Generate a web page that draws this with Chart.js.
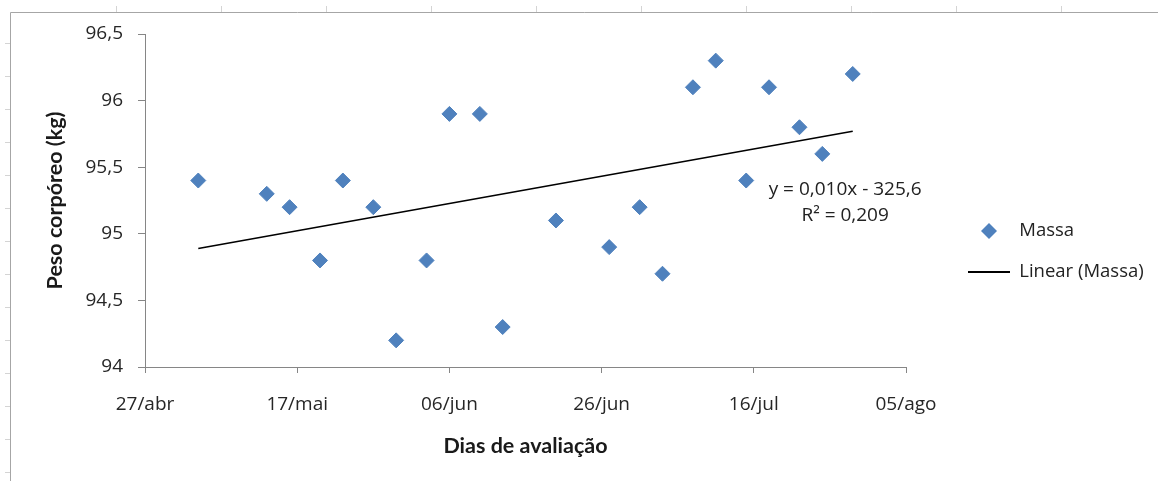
<!DOCTYPE html>
<html>
<head>
<meta charset="utf-8">
<script src="https://cdn.jsdelivr.net/npm/chart.js@4.4.1/dist/chart.umd.min.js"></script>
<style>
  html, body { margin: 0; padding: 0; background: #fff; }
  #wrap { width: 1158px; height: 481px; position: relative; }
</style>
</head>
<body>
<div id="wrap"><canvas id="grafico"></canvas></div>
<script>
// dias contados a partir de 27/abr
const dias = [7, 16, 19, 23, 26, 30, 33, 37, 40, 44, 47, 54, 61, 65, 68, 72, 75, 79, 82, 86, 89, 93];
const massa = [95.4, 95.3, 95.2, 94.8, 95.4, 95.2, 94.2, 94.8, 95.9, 95.9, 94.3, 95.1, 94.9, 95.2, 94.7, 96.1, 96.3, 95.4, 96.1, 95.8, 95.6, 96.2];
// linha de tendencia do Excel: extremos
const tendDias = [7, 93];
const tendMassa = [94.89, 95.77];
const rotulosX = ['27/abr', '17/mai', '06/jun', '26/jun', '16/jul', '05/ago'];
const equacao = ['y = 0,010x - 325,6', 'R² = 0,209'];

const azul = '#4f81bd';
const fonte = "'Open Sans', sans-serif";
const fonteTitulo = "Lato, 'Open Sans', sans-serif";

// icones da legenda
const losango = document.createElement('canvas');
losango.width = 16; losango.height = 16;
let c = losango.getContext('2d');
c.fillStyle = azul;
c.beginPath(); c.moveTo(0, 8); c.lineTo(8, 0); c.lineTo(16, 8); c.lineTo(8, 16); c.closePath(); c.fill();

const traco = document.createElement('canvas');
traco.width = 42; traco.height = 2;
c = traco.getContext('2d');
c.fillStyle = '#000';
c.fillRect(0, 0, 42, 2);

// moldura da planilha (bordas das celulas)
const moldura = {
  id: 'moldura',
  beforeDraw(chart) {
    const ctx = chart.ctx;
    ctx.save();
    ctx.strokeStyle = '#a6a6a6';
    ctx.lineWidth = 1;
    ctx.beginPath();
    ctx.moveTo(10.5, 481); ctx.lineTo(10.5, 12.5); ctx.lineTo(1158, 12.5);
    ctx.stroke();
    ctx.strokeStyle = '#d4d4d4';
    ctx.beginPath();
    for (let y = 43; y < 481; y += 33) { ctx.moveTo(5, y + 0.5); ctx.lineTo(10, y + 0.5); }
    for (let x = 116; x < 1158; x += 105) { ctx.moveTo(x + 0.5, 6); ctx.lineTo(x + 0.5, 12); }
    ctx.stroke();
    ctx.restore();
  }
};

// legenda afastada da area do grafico, como no Excel
const posLegenda = {
  id: 'posLegenda',
  afterLayout(chart) {
    const l = chart.legend;
    const w = l.width;
    l.left = 945.5; l.right = l.left + w;
    l.top -= 6; l.bottom -= 6;
  }
};

// equacao da linha de tendencia
const rotuloEquacao = {
  id: 'rotuloEquacao',
  afterDatasetsDraw(chart) {
    const {ctx, scales: {x, y}} = chart;
    ctx.save();
    ctx.font = '19px ' + fonte;
    ctx.fillStyle = '#222';
    ctx.textAlign = 'center';
    ctx.textBaseline = 'middle';
    ctx.fillText(equacao[0], x.getPixelForValue(92), y.getPixelForValue(95.335));
    ctx.fillText(equacao[1], x.getPixelForValue(92), y.getPixelForValue(95.14));
    ctx.restore();
  }
};

new Chart(document.getElementById('grafico'), {
  type: 'scatter',
  data: {
    datasets: [
      {
        label: 'Massa',
        data: dias.map((d, i) => ({ x: d, y: massa[i] })),
        pointStyle: 'rectRot',
        pointRadius: 7.5,
        pointHoverRadius: 7.5,
        backgroundColor: azul,
        borderColor: azul,
        borderWidth: 1
      },
      {
        label: 'Linear (Massa)',
        type: 'line',
        data: tendDias.map((d, i) => ({ x: d, y: tendMassa[i] })),
        borderColor: '#000',
        borderWidth: 1.6,
        pointRadius: 0,
        fill: false
      }
    ]
  },
  options: {
    responsive: true,
    maintainAspectRatio: false,
    animation: false,
    layout: { padding: { top: 34, left: 0, right: 20, bottom: 0 } },
    scales: {
      x: {
        type: 'linear',
        min: 0, max: 100,
        afterFit(scale) { scale.height = 114; scale.paddingRight = 252; },
        ticks: {
          stepSize: 20,
          padding: 20,
          color: '#262626',
          font: { family: fonte, size: 19 },
          callback: v => rotulosX[v / 20]
        },
        grid: { drawOnChartArea: false, drawTicks: true, tickLength: 6, color: '#868686' },
        border: { display: true, color: '#868686' },
        title: {
          display: true, text: 'Dias de avaliação', color: '#1a1a1a',
          font: { family: fonteTitulo, size: 21.5, weight: 'bold' },
          padding: { top: 0, bottom: 22 }
        }
      },
      y: {
        min: 94, max: 96.5,
        afterFit(scale) { scale.width = 145; },
        ticks: {
          stepSize: 0.5,
          padding: 15,
          color: '#262626',
          font: { family: fonte, size: 19 },
          callback: v => String(v).replace('.', ',')
        },
        grid: { drawOnChartArea: false, drawTicks: true, tickLength: 7, color: '#868686' },
        border: { display: true, color: '#868686' },
        title: {
          display: true, text: 'Peso corpóreo (kg)', color: '#1a1a1a',
          font: { family: fonteTitulo, size: 21.5, weight: 'bold' },
          padding: { top: 42, bottom: 0 }
        }
      }
    },
    plugins: {
      legend: {
        position: 'right',
        labels: {
          usePointStyle: true,
          pointStyleWidth: 42,
          padding: 22.5,
          color: '#222',
          font: { family: fonte, size: 18.5 },
          generateLabels(chart) {
            const itens = Chart.defaults.plugins.legend.labels.generateLabels(chart);
            itens[0].pointStyle = losango;
            itens[1].pointStyle = traco;
            return itens;
          }
        }
      },
      tooltip: { enabled: false }
    }
  },
  plugins: [moldura, posLegenda, rotuloEquacao]
});
</script>
</body>
</html>
